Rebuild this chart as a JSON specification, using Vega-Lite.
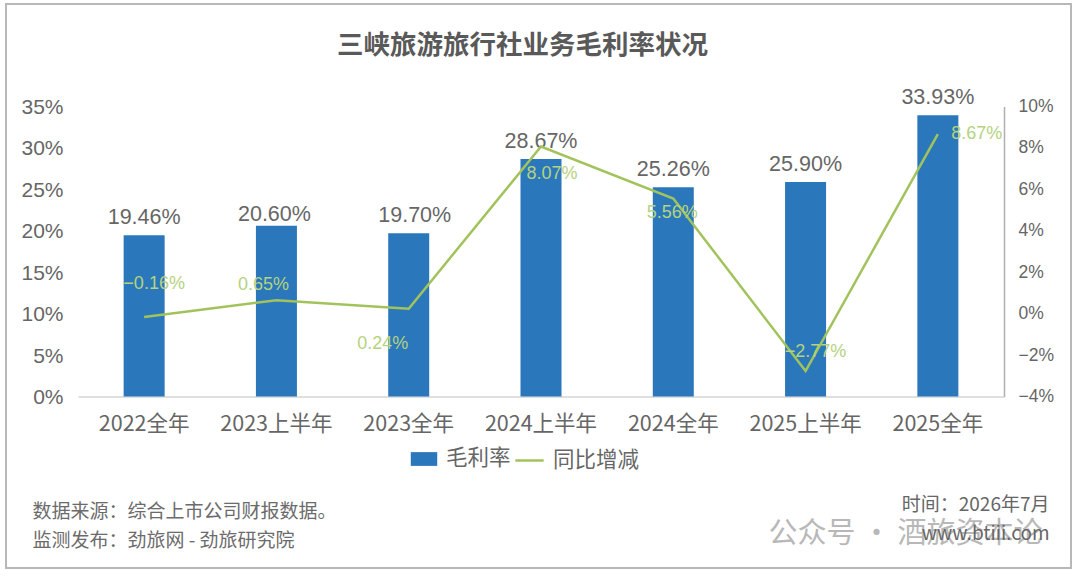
{
  "$schema": "https://vega.github.io/schema/vega-lite/v6.json",
  "title": {"text": "三峡旅游旅行社业务毛利率状况", "fontSize": 26.5, "font": "Noto Sans CJK SC", "fontWeight": "bold", "color": "#595959", "anchor": "middle", "frame": "group", "dx": -16, "dy": 59},
  "autosize": "none",
  "padding": {"left": 6, "top": 4, "right": 9, "bottom": 8},
  "width": 1065,
  "height": 564,
  "background": "#ffffff",
  "view": {"stroke": "#b8b8b8", "strokeWidth": 2},
  "config": {"font": "Liberation Sans", "axis": {"grid": false, "ticks": false}, "text": {"font": "Liberation Sans"}},
  "data": {"values": [
    {"period": "2022全年", "margin": 0.1946, "yoy": -0.0016},
    {"period": "2023上半年", "margin": 0.2060, "yoy": 0.0065},
    {"period": "2023全年", "margin": 0.1970, "yoy": 0.0024},
    {"period": "2024上半年", "margin": 0.2867, "yoy": 0.0807},
    {"period": "2024全年", "margin": 0.2526, "yoy": 0.0556},
    {"period": "2025上半年", "margin": 0.2590, "yoy": -0.0277},
    {"period": "2025全年", "margin": 0.3393, "yoy": 0.0867}
  ]},
  "encoding": {
    "x": {
      "field": "period",
      "type": "nominal",
      "sort": null,
      "scale": {"range": [72, 998], "paddingInner": 0.69, "paddingOuter": 0.345},
      "axis": {
        "orient": "bottom",
        "offset": -171.5,
        "labelAngle": 0,
        "labelFontSize": 21.5,
        "labelFont": "Noto Sans CJK SC",
        "labelColor": "#666666",
        "labelPadding": 17,
        "domainColor": "#d4d4d4",
        "domainWidth": 1.5,
        "title": ["数据来源：综合上市公司财报数据。", "监测发布：劲旅网 - 劲旅研究院"],
        "titleFont": "Noto Sans CJK SC",
        "titleFontSize": 19,
        "titleFontWeight": "normal",
        "titleColor": "#6b6b6b",
        "titleAlign": "left",
        "titleBaseline": "middle",
        "titleLineHeight": 29,
        "titleX": 26,
        "titleY": 115
      }
    }
  },
  "layer": [
    {
      "encoding": {
        "y": {
          "field": "margin",
          "type": "quantitative",
          "scale": {"domain": [0, 0.35], "range": [392.5, 102.5], "nice": false},
          "axis": {
            "orient": "left",
            "offset": -57,
            "format": ".0%",
            "values": [0, 0.05, 0.1, 0.15, 0.2, 0.25, 0.3, 0.35],
            "domain": false,
            "labelPadding": 0,
            "labelFontSize": 21,
            "labelColor": "#666666",
            "labelOffset": 1,
            "title": "公众号 · 酒旅资本论",
            "titleFont": "Noto Sans CJK SC",
            "titleFontSize": 29,
            "titleFontWeight": "normal",
            "titleColor": "#b8b8b8",
            "titleAngle": 0,
            "titleAlign": "left",
            "titleBaseline": "middle",
            "titleX": 705,
            "titleY": 529
          }
        }
      },
      "layer": [
        {
          "mark": {"type": "bar"},
          "encoding": {
            "fill": {
              "datum": "毛利率",
              "scale": {"range": ["#2a78bb"]},
              "legend": {
                "orient": "none",
                "legendX": 404,
                "legendY": 441,
                "title": null,
                "symbolType": "M-1,-0.52H1V0.52H-1Z",
                "symbolSize": 700,
                "labelFont": "Noto Sans CJK SC",
                "labelFontSize": 21.5,
                "labelColor": "#666666",
                "labelOffset": 8
              }
            }
          }
        },
        {
          "transform": [{"filter": {"field": "period", "oneOf": ["2022全年", "2024上半年", "2024全年", "2025上半年", "2025全年"]}}],
          "mark": {"type": "text", "fontSize": 21.5, "color": "#666666", "dy": -17},
          "encoding": {"text": {"field": "margin", "type": "quantitative", "format": ".2%"}}
        },
        {
          "transform": [{"filter": {"field": "period", "equal": "2023上半年"}}],
          "mark": {"type": "text", "fontSize": 21.5, "color": "#666666", "dx": -2, "dy": -11},
          "encoding": {"text": {"field": "margin", "type": "quantitative", "format": ".2%"}}
        },
        {
          "transform": [{"filter": {"field": "period", "equal": "2023全年"}}],
          "mark": {"type": "text", "fontSize": 21.5, "color": "#666666", "dx": 6, "dy": -17},
          "encoding": {"text": {"field": "margin", "type": "quantitative", "format": ".2%"}}
        }
      ]
    },
    {
      "encoding": {
        "y": {
          "field": "yoy",
          "type": "quantitative",
          "scale": {"domain": [-0.04, 0.1], "range": [392.5, 102.5], "nice": false},
          "axis": {
            "orient": "right",
            "offset": -67,
            "format": ".0%",
            "values": [-0.04, -0.02, 0, 0.02, 0.04, 0.06, 0.08, 0.1],
            "domainColor": "#b0b0b0",
            "domainWidth": 1.5,
            "labelPadding": 14,
            "labelFontSize": 17.5,
            "labelColor": "#666666",
            "title": ["时间：2026年7月", "www.btiii.com"],
            "titleFont": "Noto Sans CJK SC",
            "titleFontSize": 19,
            "titleFontWeight": "normal",
            "titleColor": "#666666",
            "titleAngle": 0,
            "titleAlign": "right",
            "titleBaseline": "middle",
            "titleLineHeight": 29,
            "titleX": 45,
            "titleY": 500
          }
        }
      },
      "layer": [
        {
          "mark": {"type": "line", "strokeWidth": 2.5},
          "encoding": {
            "stroke": {
              "datum": "同比增减",
              "scale": {"range": ["#a2c35c"]},
              "legend": {
                "orient": "none",
                "legendX": 508,
                "legendY": 441,
                "title": null,
                "symbolType": "stroke",
                "symbolSize": 800,
                "symbolStrokeWidth": 2.5,
                "labelFont": "Noto Sans CJK SC",
                "labelFontSize": 21.5,
                "labelColor": "#666666",
                "labelOffset": 8
              }
            }
          }
        },
        {
          "transform": [{"filter": {"field": "period", "equal": "2022全年"}}],
          "mark": {"type": "text", "fontSize": 18, "color": "#b5d27e", "dx": 10, "dy": -33},
          "encoding": {"text": {"field": "yoy", "type": "quantitative", "format": ".2%"}}
        },
        {
          "transform": [{"filter": {"field": "period", "equal": "2023上半年"}}],
          "mark": {"type": "text", "fontSize": 18, "color": "#b5d27e", "dx": -13, "dy": -15},
          "encoding": {"text": {"field": "yoy", "type": "quantitative", "format": ".2%"}}
        },
        {
          "transform": [{"filter": {"field": "period", "equal": "2023全年"}}],
          "mark": {"type": "text", "fontSize": 18, "color": "#b5d27e", "dx": -26, "dy": 35},
          "encoding": {"text": {"field": "yoy", "type": "quantitative", "format": ".2%"}}
        },
        {
          "transform": [{"filter": {"field": "period", "equal": "2024上半年"}}],
          "mark": {"type": "text", "fontSize": 18, "color": "#b5d27e", "dx": 11, "dy": 28},
          "encoding": {"text": {"field": "yoy", "type": "quantitative", "format": ".2%"}}
        },
        {
          "transform": [{"filter": {"field": "period", "equal": "2024全年"}}],
          "mark": {"type": "text", "fontSize": 18, "color": "#b5d27e", "dx": -1, "dy": 15},
          "encoding": {"text": {"field": "yoy", "type": "quantitative", "format": ".2%"}}
        },
        {
          "transform": [{"filter": {"field": "period", "equal": "2025上半年"}}],
          "mark": {"type": "text", "fontSize": 18, "color": "#b5d27e", "dx": 10, "dy": -19},
          "encoding": {"text": {"field": "yoy", "type": "quantitative", "format": ".2%"}}
        },
        {
          "transform": [{"filter": {"field": "period", "equal": "2025全年"}}],
          "mark": {"type": "text", "fontSize": 18, "color": "#b5d27e", "dx": 39, "dy": 0},
          "encoding": {"text": {"field": "yoy", "type": "quantitative", "format": ".2%"}}
        }
      ]
    }
  ],
  "resolve": {"scale": {"y": "independent"}}
}
